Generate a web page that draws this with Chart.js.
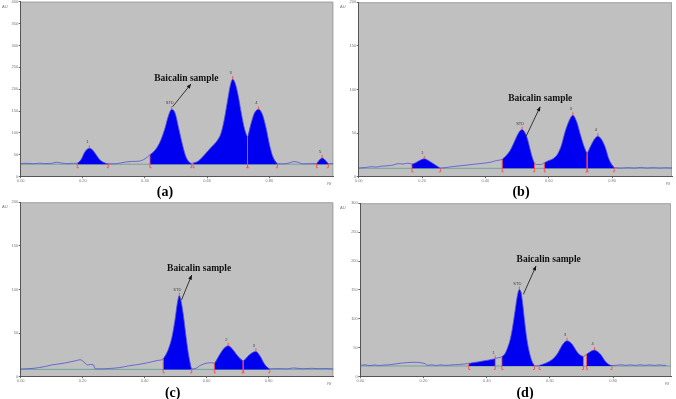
<!DOCTYPE html>
<html><head><meta charset="utf-8">
<script src="https://cdn.jsdelivr.net/npm/chart.js@4.4.1/dist/chart.umd.min.js"></script>
<style>
html,body{margin:0;padding:0;background:#fff;}
#wrap{position:relative;width:676px;height:399px;overflow:hidden;background:#fff;}
canvas{position:absolute;}
</style></head><body>
<div id="wrap">
<canvas id="ca" width="338" height="200" style="left:0;top:0"></canvas>
<canvas id="cb" width="338" height="200" style="left:338px;top:0"></canvas>
<canvas id="cc" width="338" height="199" style="left:0;top:200px"></canvas>
<canvas id="cd" width="338" height="199" style="left:338px;top:200px"></canvas>
</div>
<script>
// ---------- shared ticks / labels ----------
const xTicks = [0, 0.2, 0.4, 0.6, 0.8];
const xTickLabels = ['0.00', '0.20', '0.40', '0.60', '0.80'];
const xUnit = 'Rf';
const yUnit = 'AU';
const noteText = 'Baicalin sample';

// ---------- panel (a) ----------
const rfA = [0.000,0.014,0.041,0.060,0.073,0.094,0.116,0.133,0.150,0.166,
  0.182,0.195,0.205,0.214,0.221,0.230,0.241,0.253,0.266,0.282,
  0.300,0.318,0.338,0.360,0.381,0.400,
  0.416,0.434,0.450,0.464,0.475,0.486,0.497,0.508,0.520,0.532,0.543,0.550,
  0.555,0.570,0.585,0.600,0.617,0.632,0.645,0.655,0.666,0.675,0.682,0.690,0.700,0.710,0.720,0.730,
  0.740,0.752,0.765,0.778,0.790,0.801,0.812,0.826,
  0.845,0.862,0.880,0.893,0.906,0.930,
  0.952,0.961,0.970,0.980,0.990,1.006];
const auA = [29.5,30.5,29.8,30.8,30.2,30.0,33.0,31.0,30.0,30.5,
  31.0,40,55,63,65,62,52,40,33,29.5,
  29.5,31,33.5,35,35.5,41,
  50,62,82,110,138,154,145,112,75,45,33,30.5,
  31.5,35,45,57,70,82,100,130,175,210,223,214,185,145,110,91,
  118,145,154,142,110,72,45,30,
  29.5,31,34.5,33,29.5,29.8,
  30,38,43,38,30,30];
const baseA = 28.5;
const peaksA = [[0.182,0.282],[0.416,0.550],[0.555,0.730],[0.730,0.826],[0.952,0.990]];
const namesA = ['1','STD','3','4','5'];
const yTicksA = [0,50,100,150,200,250,300,350,400];
const noteA = {text:[0.533,224.5], from:[0.489,160], tip:[0.548,212]};

// ---------- panel (b) ----------
const rfB = [0.000,0.021,0.040,0.055,0.070,0.090,0.110,0.125,0.140,0.155,
  0.168,0.180,0.192,0.207,0.220,0.235,0.248,0.258,
  0.275,0.295,0.320,0.345,0.370,0.395,0.415,0.435,
  0.453,0.465,0.478,0.490,0.500,0.510,0.516,0.524,0.533,0.540,0.548,0.555,
  0.565,0.575,
  0.586,0.600,0.615,0.628,0.640,0.652,0.664,0.676,0.688,0.700,0.712,0.721,
  0.732,0.744,0.755,0.766,0.778,0.790,0.807,
  0.830,0.850,0.870,0.890,0.910,0.930,0.950,0.970,0.989];
const auB = [10,10.5,11.5,11,12,12.5,13.5,15,14.5,15.5,
  14.5,16,18.5,20.5,18.5,15,12,10,
  10.5,11.5,12.5,13.5,14.5,15.5,16.5,18.5,
  20,24,30,39,47,53,54,51,43,33,22,15.5,
  14,14,
  16,18.5,21,26,36,52,64,70.5,63,48,34,27,
  35,43,46.5,43,34,20,10.5,
  10,10.4,10,10.6,10,10.4,10,10.3,10];
const baseB = 9.6;
const peaksB = [[0.168,0.258],[0.453,0.555],[0.586,0.721],[0.721,0.807]];
const namesB = ['1','STD','3','4'];
const yTicksB = [0,50,100,150,200];
const noteB = {text:[0.573,90], from:[0.528,46], tip:[0.573,80.3]};

// ---------- panel (c) ----------
const rfC = [0.000,0.020,0.040,0.060,0.080,0.100,0.120,0.140,0.160,0.180,0.192,0.205,0.215,0.225,0.235,0.240,
  0.260,0.290,0.320,0.350,0.380,0.410,0.440,
  0.460,0.475,0.488,0.498,0.506,0.512,0.518,0.526,0.534,0.542,0.552,
  0.565,0.580,0.600,0.615,
  0.625,0.640,0.655,0.670,0.685,0.700,0.718,
  0.732,0.745,0.759,0.772,0.788,0.804,
  0.830,0.860,0.880,0.910,0.940,0.960,0.985,1.009];
const auC = [8.8,9.2,9.5,10.5,11.8,13.5,14.5,15.5,17,18.5,19.5,16.5,13.5,14,13.5,9,
  9,9.5,10.5,12.5,14,16,18.5,
  20.5,30,45,65,85,93,86,68,45,25,9,
  9.5,13,15.5,16,
  15.5,24,32,35.5,31,24,18,
  23,27,29,24,14,9,
  9.3,9,10,9.2,9.6,9.2,9.4,9];
const baseC = 8.4;
const peaksC = [[0.460,0.552],[0.625,0.718],[0.718,0.804]];
const namesC = ['STD','2','3'];
const yTicksC = [0,50,100,150,200];
const noteC = {text:[0.576,124.3], from:[0.519,88], tip:[0.552,116.6]};

// ---------- panel (d) ----------
const rfD = [0.000,0.015,0.030,0.045,0.060,0.075,0.090,0.110,0.130,0.150,0.170,0.190,0.205,0.212,
  0.225,0.240,0.255,0.270,0.290,0.310,0.330,
  0.343,0.360,0.377,0.392,0.408,0.418,0.427,0.438,
  0.448,0.458,0.466,0.475,0.482,0.490,0.497,0.503,0.509,0.514,0.520,0.527,0.535,0.543,0.551,0.558,
  0.566,0.582,0.598,0.612,0.624,0.635,0.645,0.654,0.663,0.672,0.681,0.690,0.698,0.706,0.711,
  0.716,0.724,0.733,0.741,0.749,0.756,0.764,0.772,0.783,0.796,
  0.810,0.825,0.840,0.855,0.870,0.885,0.900,0.915,0.930,0.945,0.960,0.968];
const auD = [19.5,20.5,19.2,20.3,19.3,20.2,20.5,22,23.5,24.5,25,24.3,22.5,19.8,
  20.5,19.5,20.4,19.6,20.5,21,22,
  23,24.5,26,27.5,29,30,31.5,33,
  34.6,40,50,66,86,115,140,151,145,125,95,65,42,27,19.5,18.8,
  19.6,22.5,26.5,32,40,51,59,62,60,55,47,40,36.5,35,37,
  39,42,45,46,44,41,36,29,22.5,19.3,
  19.8,20.6,19.6,20.5,19.5,20.6,19.6,20.5,19.5,20.4,19.6,19.5];
const baseD = 18.5;
const peaksD = [[0.343,0.427],[0.448,0.551],[0.566,0.706],[0.716,0.796]];
const namesD = ['1','STD','3','4'];
const yTicksD = [0,50,100,150,200,250,300];
const noteD = {text:[0.596,202], from:[0.516,142.5], tip:[0.556,191.6]};

// ---------- drawing ----------
const FILL = '#0000f0', TRACE = '#5252d6', BASE = '#5e9c93', RED = '#ff4a4a';

function valAt(xs, ys, x){
  for (let i=0;i<xs.length-1;i++){
    if (x>=xs[i]-1e-9 && x<=xs[i+1]+1e-9){
      const t=(x-xs[i])/((xs[i+1]-xs[i])||1); return ys[i]+t*(ys[i+1]-ys[i]);
    }
  }
  return ys[ys.length-1];
}

function makePlugin(cfg){
  return {
    id:'chromo',
    beforeDraw(chart){
      const {ctx, chartArea:a} = chart;
      ctx.save();
      ctx.fillStyle='#c0c0c0';
      ctx.fillRect(a.left,a.top,a.right-a.left,a.bottom-a.top);
      ctx.strokeStyle='#a3a3a3'; ctx.lineWidth=1;
      ctx.beginPath();
      ctx.moveTo(a.left,a.top+0.5); ctx.lineTo(a.right-0.5,a.top+0.5); ctx.lineTo(a.right-0.5,a.bottom);
      ctx.stroke();
      ctx.restore();
    },
    afterDatasetsDraw(chart){
      const {ctx} = chart, xs=chart.scales.x, ys=chart.scales.y;
      const by = ys.getPixelForValue(cfg.base);
      ctx.save();
      ctx.strokeStyle=RED; ctx.lineWidth=0.9;
      cfg.peaks.forEach((p,k)=>{
        [0,1].forEach(side=>{
          const x = xs.getPixelForValue(p[side]);
          const y = ys.getPixelForValue(valAt(cfg.xs,cfg.ys,p[side]));
          ctx.beginPath();
          ctx.moveTo(x, Math.min(y,by)); ctx.lineTo(x, by+3.5);
          ctx.lineTo(x+(side===0?1.5:-1.5), by+3.5);
          ctx.stroke();
        });
        // peak top
        let bi=-1, bv=-Infinity;
        cfg.xs.forEach((xv,i)=>{ if(xv>=p[0]-1e-9 && xv<=p[1]+1e-9 && cfg.ys[i]>bv){bv=cfg.ys[i];bi=i;} });
        const px = xs.getPixelForValue(cfg.xs[bi]), py = ys.getPixelForValue(bv);
        ctx.beginPath(); ctx.moveTo(px,py); ctx.lineTo(px,py-3); ctx.stroke();
        ctx.fillStyle='#3a3a3a';
        ctx.font='4px "Liberation Sans", Arial';
        ctx.textAlign='center'; ctx.textBaseline='bottom';
        ctx.fillText(cfg.names[k], px-2, py-4);
      });
      ctx.restore();
    },
    afterDraw(chart){
      const {ctx, chartArea:a} = chart, xs=chart.scales.x, ys=chart.scales.y;
      const n = cfg.note;
      ctx.save();
      // annotation arrow
      const x0=xs.getPixelForValue(n.from[0]), y0=ys.getPixelForValue(n.from[1]);
      const x1=xs.getPixelForValue(n.tip[0]), y1=ys.getPixelForValue(n.tip[1]);
      ctx.strokeStyle='#111'; ctx.fillStyle='#111'; ctx.lineWidth=0.8;
      ctx.beginPath(); ctx.moveTo(x0,y0); ctx.lineTo(x1,y1); ctx.stroke();
      const ang=Math.atan2(y1-y0,x1-x0), L=4.5, Wd=1.9;
      ctx.beginPath();
      ctx.moveTo(x1,y1);
      ctx.lineTo(x1-L*Math.cos(ang)+Wd*Math.sin(ang), y1-L*Math.sin(ang)-Wd*Math.cos(ang));
      ctx.lineTo(x1-L*Math.cos(ang)-Wd*Math.sin(ang), y1-L*Math.sin(ang)+Wd*Math.cos(ang));
      ctx.closePath(); ctx.fill();
      // annotation text
      ctx.font='bold 9.5px "Liberation Serif", "Times New Roman", serif';
      ctx.textAlign='center'; ctx.textBaseline='middle';
      ctx.fillText(noteText, xs.getPixelForValue(n.text[0]), ys.getPixelForValue(n.text[1]));
      // panel label
      ctx.font='bold 14px "Liberation Serif", "Times New Roman", serif';
      ctx.fillStyle='#000';
      ctx.fillText(cfg.panel, cfg.panelPos[0], cfg.panelPos[1]);
      // units
      ctx.font='4px "Liberation Sans", Arial'; ctx.fillStyle='#777';
      ctx.textAlign='right';
      ctx.fillText(xUnit, a.right-2, a.bottom+7);
      ctx.textAlign='left';
      ctx.fillText(yUnit, 2, a.top+5);
      ctx.restore();
    }
  };
}

function makeChart(id, cfg){
  const W = cfg.W, H = cfg.H, area = cfg.area;
  const pts = cfg.xs.map((x,i)=>({x:x, y:cfg.ys[i]}));
  const datasets = [
    {data:pts, borderColor:TRACE, borderWidth:0.8, pointRadius:0, fill:false, cubicInterpolationMode:'monotone', order:0},
    {data:[{x:0,y:cfg.base},{x:cfg.xmax,y:cfg.base}], borderColor:BASE, borderWidth:0.8, pointRadius:0, fill:false, order:3}
  ];
  cfg.peaks.forEach(p=>{
    datasets.push({
      data: pts.filter(q=>q.x>=p[0]-1e-9 && q.x<=p[1]+1e-9),
      borderWidth:0, borderColor:'rgba(0,0,0,0)', backgroundColor:FILL, pointRadius:0,
      fill:{value:cfg.base}, cubicInterpolationMode:'monotone', order:2
    });
  });
  const tickFont = {size:4, family:'"Liberation Sans", Arial'};
  return new Chart(document.getElementById(id), {
    type:'line',
    data:{datasets},
    options:{
      responsive:false, animation:false, devicePixelRatio:1,
      layout:{padding:{left:0, top:area.t, right:W-area.r, bottom:0}},
      plugins:{legend:{display:false}, tooltip:{enabled:false}},
      scales:{
        x:{type:'linear', min:0, max:cfg.xmax,
          afterBuildTicks:s=>{ s.ticks = xTicks.map(v=>({value:v})); },
          ticks:{callback:(v,i)=>xTickLabels[i], font:tickFont, color:'#777', padding:0.5, maxRotation:0, autoSkip:false},
          grid:{display:true, drawOnChartArea:false, drawTicks:true, tickLength:1.5, color:'#666'},
          border:{display:true, color:'#555', width:1},
          afterFit:s=>{ s.height = H-area.b; s.paddingLeft=0; s.paddingRight=0; }
        },
        y:{type:'linear', min:0, max:cfg.ymax,
          afterBuildTicks:s=>{ s.ticks = cfg.yTicks.map(v=>({value:v})); },
          ticks:{callback:(v,i)=>String(cfg.yTicks[i]), font:tickFont, color:'#777', padding:0.5, autoSkip:false},
          grid:{display:true, drawOnChartArea:false, drawTicks:true, tickLength:2, color:'#666'},
          border:{display:true, color:'#555', width:1},
          afterFit:s=>{ s.width = area.l; s.paddingTop=0; s.paddingBottom=0; }
        }
      }
    },
    plugins:[makePlugin(cfg)]
  });
}

makeChart('ca', {W:338,H:200, area:{l:20.7,t:1.7,r:333.3,b:176.7}, xs:rfA, ys:auA, base:baseA, peaks:peaksA, names:namesA,
  ymax:400, yTicks:yTicksA, xmax:1.006, note:noteA, panel:'(a)', panelPos:[165,192]});
makeChart('cb', {W:338,H:200, area:{l:20.7,t:2.3,r:334,b:176.7}, xs:rfB, ys:auB, base:baseB, peaks:peaksB, names:namesB,
  ymax:200, yTicks:yTicksB, xmax:0.989, note:noteB, panel:'(b)', panelPos:[183,192]});
makeChart('cc', {W:338,H:199, area:{l:20.7,t:2.3,r:333.3,b:176.7}, xs:rfC, ys:auC, base:baseC, peaks:peaksC, names:namesC,
  ymax:200, yTicks:yTicksC, xmax:1.009, note:noteC, panel:'(c)', panelPos:[172.7,193]});
makeChart('cd', {W:338,H:199, area:{l:22.3,t:3.3,r:333,b:176.7}, xs:rfD, ys:auD, base:baseD, peaks:peaksD, names:namesD,
  ymax:300, yTicks:yTicksD, xmax:0.983, note:noteD, panel:'(d)', panelPos:[187,193]});
</script>
</body></html>
